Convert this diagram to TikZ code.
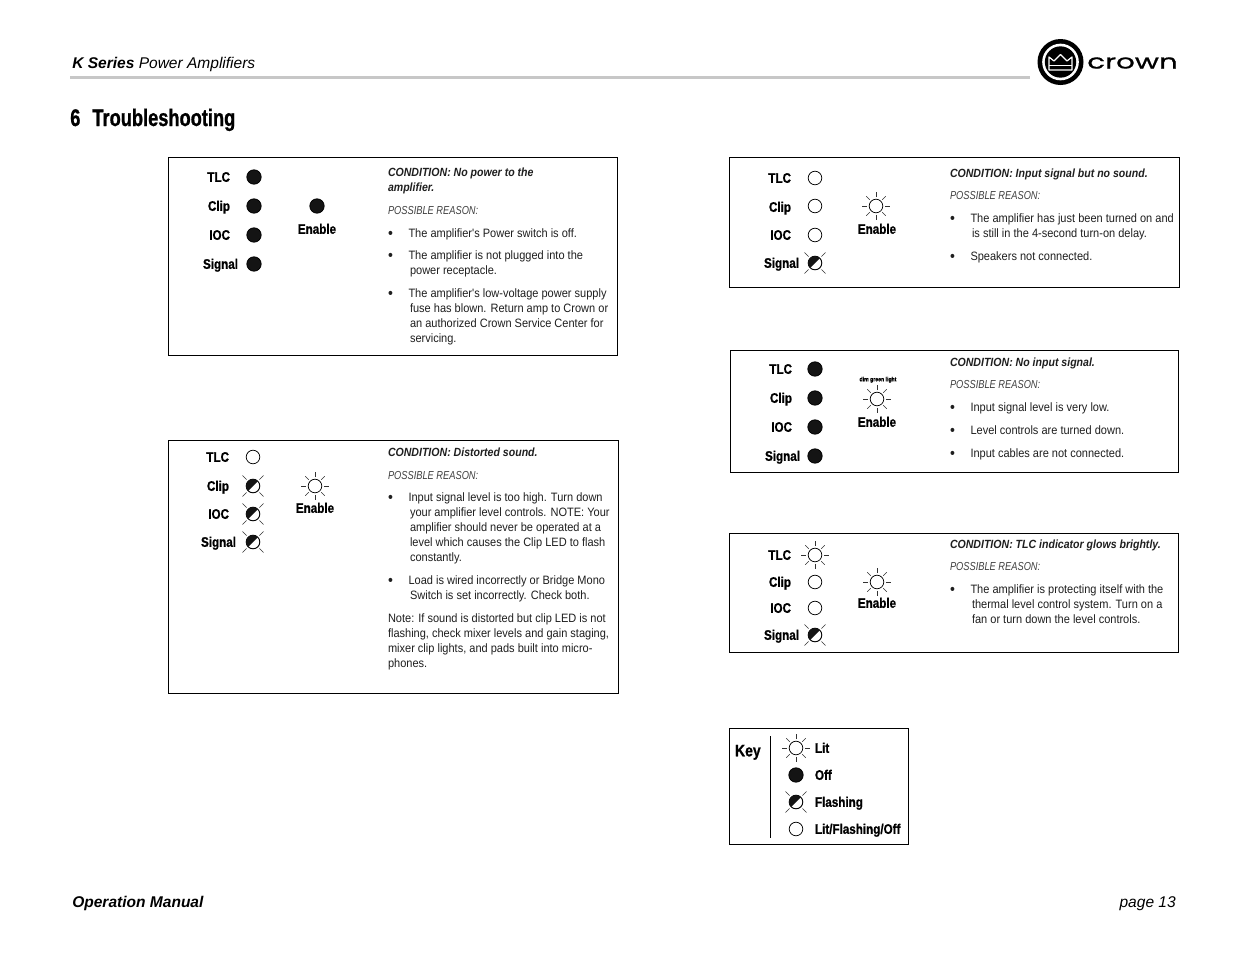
\documentclass[tikz,border=0pt]{standalone}
\usepackage{fontspec}
\setmainfont{Liberation Sans}
\newfontfamily\cond[FakeStretch=0.80]{Liberation Sans}
\newfontfamily\bodyf[FakeStretch=0.908]{Liberation Sans}
\newfontfamily\cndf[FakeStretch=0.89]{Liberation Sans}
\newfontfamily\lab[FakeStretch=0.84,FakeBold=0.9]{Liberation Sans Bold}
\newfontfamily\titf[FakeStretch=0.76,FakeBold=0.9]{Liberation Sans Bold}
\newfontfamily\logof[FakeStretch=1.47,FakeBold=0.7]{Poppins}
\newcounter{tn}
\tikzset{
 panel/.style={draw=black,line width=.7pt,fill=white},
 txt/.style={anchor=base west,inner sep=0,outer sep=0,text=black!88,font=\bodyf\fontsize{9.1}{11}\selectfont},
 cnd/.style={txt,font=\cndf\bfseries\itshape\fontsize{8.9}{11}\selectfont},
 psr/.style={txt,font=\cond\itshape\fontsize{8.7}{11}\selectfont,text=black!75},
 lbl/.style={anchor=base east,inner sep=0,outer sep=0,yshift=-.6pt,font=\lab\fontsize{10.4}{12}\selectfont},
 lblc/.style={lbl,anchor=base},
 lblw/.style={lbl,anchor=base west},
 led/.style={circle,inner sep=0,outer sep=0,minimum size=10.2pt,draw=black,line width=.55pt,fill=white},
 ledoff/.style={led,minimum size=10.8pt,fill=black!92},
 ray/.style={line width=.35pt,draw=black!80},
}
% generic text line: style, x, centre y, text
\newcommand{\TL}[4]{\stepcounter{tn}\node[#1] (t\arabic{tn}) at (#2,#3+4) {#4};}
\newcommand{\BL}[3]{\stepcounter{tn}\node[txt,font=\bodyf\fontsize{11.5}{11}\selectfont] (t\arabic{tn}) at (#1,#2+5.4) {•};\stepcounter{tn}\node[txt] (t\arabic{tn}) at (#1+20.5,#2+4) {#3};}
\newcommand{\LEDoff}[3]{\node[ledoff] (#1) at (#2,#3) {};}
\newcommand{\LEDopen}[3]{\node[led] (#1) at (#2,#3) {};}
\newcommand{\LEDlit}[3]{\node[led] (#1) at (#2,#3) {};
 \foreach \a in {0,45,...,315}{\draw[ray] (#1.center) ++(\a:6.6pt) -- ++(\a:3.8pt);}}
\newcommand{\LEDflash}[3]{\node[led,line width=.7pt] (#1) at (#2,#3) {};
 \fill[black!92] (#1.45) arc[start angle=45,end angle=225,radius=5.2pt] -- cycle;
 \foreach \a in {45,135,225,315}{\draw[ray] (#1.center) ++(\a:6.8pt) -- ++(\a:4.4pt);}}
\begin{document}
\begin{tikzpicture}[x=.75pt,y=-.75pt]
\path[use as bounding box,fill=white] (0,0) rectangle (1235,954);
% header
\node[anchor=base west,inner sep=0,font=\fontsize{11.65}{13}\selectfont] (head) at (72,68.3) {\textbf{\textit{K Series}} \textit{Power Amplifiers}};
\coordinate (ruleL) at (70,77.5); \coordinate (ruleR) at (1030,77.5);
\draw[line width=2.4pt,black!22] (ruleL) -- (ruleR);
\node[anchor=base west,inner sep=0,font=\titf\fontsize{18}{20}\selectfont] (title) at (70,126) {6\hspace{.5em}Troubleshooting};
% logo
\node[circle,fill=black,minimum size=34.5pt,inner sep=0] (logoA) at (1060.5,62) {};
\node[circle,fill=white,minimum size=27.5pt,inner sep=0] (logoB) at (1060.5,62) {};
\node[circle,fill=black,minimum size=23.5pt,inner sep=0] (logoC) at (1060.5,62) {};
\draw[white,line width=.9pt,line join=round] (1049,57) -- (1054,61) -- (1060.5,54.5) -- (1067,61) -- (1072,57) -- (1072,70) -- (1049,70) -- cycle;
\draw[white,line width=.9pt] (1049,65.5) -- (1072,65.5);
\node[anchor=base west,inner sep=0,font=\logof\fontsize{15}{16}\selectfont] (logotext) at (1087,68.5) {crown};
% footer
\node[anchor=base west,inner sep=0,font=\bfseries\itshape\fontsize{11.65}{13}\selectfont] (foot) at (72,907.5) {Operation Manual};
\node[anchor=base east,inner sep=0,font=\itshape\fontsize{11.65}{13}\selectfont] (page) at (1176,907.5) {page 13};
% panel 1
\draw[panel] (168.5,157.5) rectangle (617.5,355.5);
\TL{lbl}{230}{177}{TLC}\TL{lbl}{230}{206}{Clip}\TL{lbl}{230}{235}{IOC}\TL{lbl}{238}{264}{Signal}
\LEDoff{a1}{254}{177}\LEDoff{a2}{254}{206}\LEDoff{a3}{254}{235}\LEDoff{a4}{254}{264}
\LEDoff{a5}{317}{206}\TL{lblc}{317}{229}{Enable}
\TL{cnd}{388}{172}{CONDITION: No power to the}
\TL{cnd}{388}{187}{amplifier.}
\TL{psr}{388}{210}{POSSIBLE REASON:}
\BL{388}{233}{The amplifier's Power switch is off.}
\BL{388}{255}{The amplifier is not plugged into the}
\TL{txt}{410}{270}{power receptacle.}
\BL{388}{293}{The amplifier's low-voltage power supply}
\TL{txt}{410}{308}{fuse has blown. Return amp to Crown or}
\TL{txt}{410}{323}{an authorized Crown Service Center for}
\TL{txt}{410}{338}{servicing.}
% panel 2
\draw[panel] (168.5,440.5) rectangle (618.5,693.5);
\TL{lbl}{229}{457}{TLC}\TL{lbl}{229}{486}{Clip}\TL{lbl}{229}{514}{IOC}\TL{lbl}{236}{542}{Signal}
\LEDopen{b1}{253}{457}\LEDflash{b2}{253}{486}\LEDflash{b3}{253}{514}\LEDflash{b4}{253}{542}
\LEDlit{b5}{315}{486}\TL{lblc}{315}{508}{Enable}
\TL{cnd}{388}{452}{CONDITION: Distorted sound.}
\TL{psr}{388}{475}{POSSIBLE REASON:}
\BL{388}{497}{Input signal level is too high. Turn down}
\TL{txt}{410}{512}{your amplifier level controls. NOTE: Your}
\TL{txt}{410}{527}{amplifier should never be operated at a}
\TL{txt}{410}{542}{level which causes the Clip LED to flash}
\TL{txt}{410}{557}{constantly.}
\BL{388}{580}{Load is wired incorrectly or Bridge Mono}
\TL{txt}{410}{595}{Switch is set incorrectly. Check both.}
\TL{txt}{388}{618}{Note: If sound is distorted but clip LED is not}
\TL{txt}{388}{633}{flashing, check mixer levels and gain staging,}
\TL{txt}{388}{648}{mixer clip lights, and pads built into micro-}
\TL{txt}{388}{663}{phones.}
% panel 3
\draw[panel] (729.5,157.5) rectangle (1179.5,287.5);
\TL{lbl}{791}{178}{TLC}\TL{lbl}{791}{207}{Clip}\TL{lbl}{791}{235}{IOC}\TL{lbl}{799}{263}{Signal}
\LEDopen{c1}{815}{178}\LEDopen{c2}{815}{206}\LEDopen{c3}{815}{235}\LEDflash{c4}{815}{263}
\LEDlit{c5}{876}{206}\TL{lblc}{877}{229}{Enable}
\TL{cnd}{950}{173}{CONDITION: Input signal but no sound.}
\TL{psr}{950}{195}{POSSIBLE REASON:}
\BL{950}{218}{The amplifier has just been turned on and}
\TL{txt}{972}{233}{is still in the 4-second turn-on delay.}
\BL{950}{256}{Speakers not connected.}
% panel 4
\draw[panel] (730.5,350.5) rectangle (1178.5,472.5);
\TL{lbl}{792}{369}{TLC}\TL{lbl}{792}{398}{Clip}\TL{lbl}{792}{427}{IOC}\TL{lbl}{800}{456}{Signal}
\LEDoff{d1}{815}{369}\LEDoff{d2}{815}{398}\LEDoff{d3}{815}{427}\LEDoff{d4}{815}{456}
\LEDlit{d5}{877}{399}\TL{lblc}{877}{422}{Enable}
\stepcounter{tn}\node[lblc,font=\lab\fontsize{4.6}{5}\selectfont] (t\arabic{tn}) at (878,380.5) {dim green light};
\TL{cnd}{950}{362}{CONDITION: No input signal.}
\TL{psr}{950}{384}{POSSIBLE REASON:}
\BL{950}{407}{Input signal level is very low.}
\BL{950}{430}{Level controls are turned down.}
\BL{950}{453}{Input cables are not connected.}
% panel 5
\draw[panel] (729.5,533.5) rectangle (1178.5,652.5);
\TL{lbl}{791}{555}{TLC}\TL{lbl}{791}{582}{Clip}\TL{lbl}{791}{608}{IOC}\TL{lbl}{799}{635}{Signal}
\LEDlit{e1}{815}{555}\LEDopen{e2}{815}{582}\LEDopen{e3}{815}{608}\LEDflash{e4}{815}{635}
\LEDlit{e5}{877}{582}\TL{lblc}{877}{603}{Enable}
\TL{cnd}{950}{544}{CONDITION: TLC indicator glows brightly.}
\TL{psr}{950}{566}{POSSIBLE REASON:}
\BL{950}{589}{The amplifier is protecting itself with the}
\TL{txt}{972}{604}{thermal level control system. Turn on a}
\TL{txt}{972}{619}{fan or turn down the level controls.}
% key
\draw[panel] (729.5,728.5) rectangle (908.5,844.5);
\coordinate (keyT) at (770.5,736); \coordinate (keyB) at (770.5,838);
\draw[line width=.6pt] (keyT) -- (keyB);
\stepcounter{tn}\node[lblw,font=\lab\fontsize{12.5}{15}\selectfont] (t\arabic{tn}) at (735,755.5) {Key};
\LEDlit{k1}{796}{748}\LEDoff{k2}{796}{775}\LEDflash{k3}{796}{802}\LEDopen{k4}{796}{829}
\TL{lblw}{815}{748}{Lit}\TL{lblw}{815}{775}{Off}\TL{lblw}{815}{802}{Flashing}\TL{lblw}{815}{829}{Lit/Flashing/Off}
\end{tikzpicture}
\end{document}
